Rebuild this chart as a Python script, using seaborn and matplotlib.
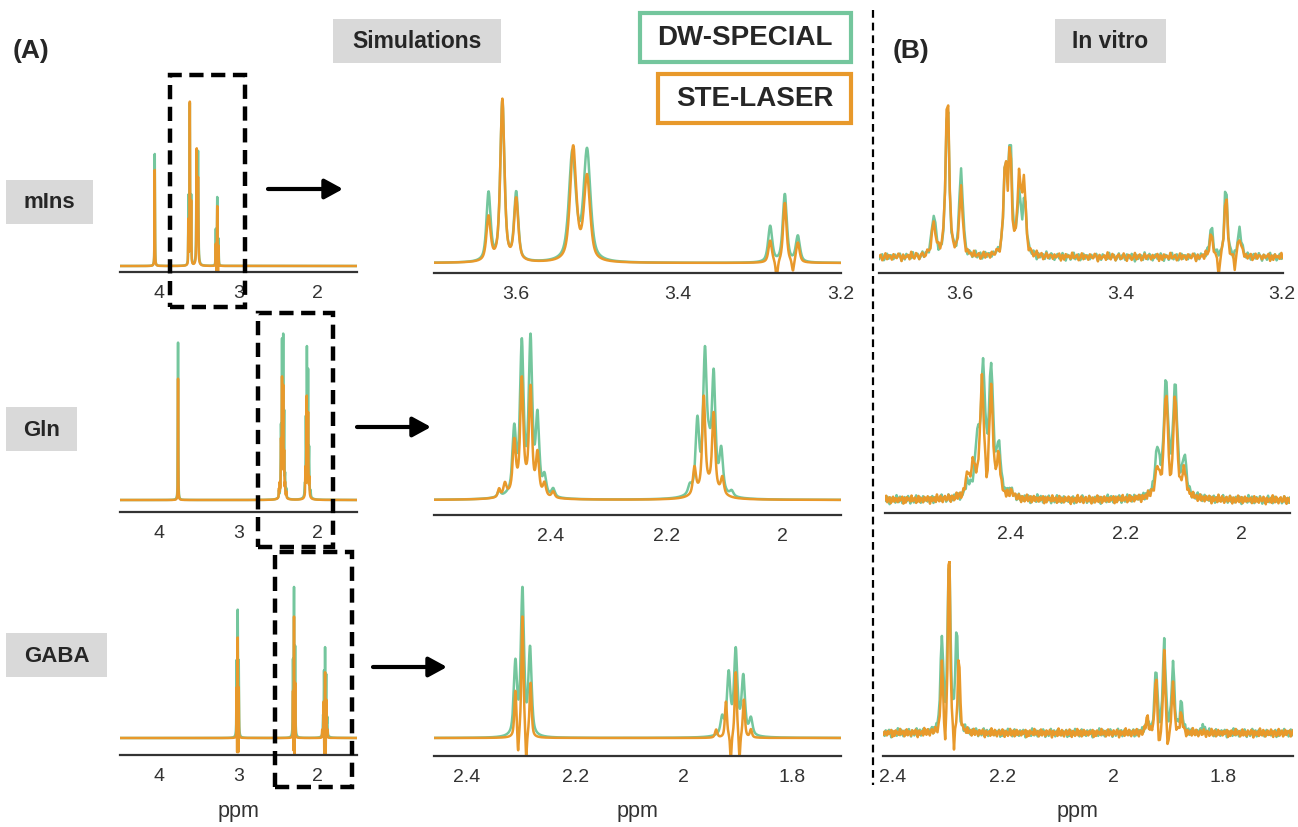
import numpy as np
import pandas as pd
import matplotlib
matplotlib.use("Agg")
import matplotlib.pyplot as plt
import seaborn as sns
from matplotlib.patches import Rectangle, FancyArrowPatch
from matplotlib.lines import Line2D

# ---- data: peak tables (ppm, intensity in a.u., line width in ppm) ----
SEQUENCES = ["DW-SPECIAL", "STE-LASER"]
METABOLITES = ["mIns", "Gln", "GABA"]

MINS_SIM_SPECIAL = [(4.060, 112, 0.006), (3.633, 68, 0.006), (3.616, 160, 0.006), (3.599, 68, 0.006),
                    (3.530, 108, 0.010), (3.512, 110, 0.010),
                    (3.287, 36, 0.006), (3.269, 68, 0.006), (3.253, 26, 0.006)]
MINS_SIM_LASER = [(4.060, 96, 0.006), (3.633, 44, 0.006), (3.616, 162, 0.006), (3.599, 62, 0.006),
                  (3.529, 114, 0.009), (3.512, 84, 0.009),
                  (3.287, 22, 0.005), (3.279, -18, 0.003), (3.269, 60, 0.005), (3.259, -12, 0.003), (3.253, 20, 0.005)]

GLN_SIM_SPECIAL = [(3.765, 158, 0.006),
                   (2.445, 14, 0.040), (2.488, 6, 0.006), (2.462, 60, 0.007), (2.449, 140, 0.007),
                   (2.434, 146, 0.007), (2.422, 74, 0.007), (2.410, 18, 0.007), (2.395, 8, 0.007),
                   (2.128, 16, 0.040), (2.160, 8, 0.007), (2.147, 68, 0.007), (2.134, 128, 0.007),
                   (2.127, 26, 0.007), (2.119, 108, 0.007), (2.106, 40, 0.007), (2.088, 5, 0.007)]
GLN_SIM_LASER = [(3.765, 122, 0.005),
                 (2.445, 16, 0.040), (2.488, 8, 0.005), (2.478, 12, 0.006), (2.462, 48, 0.006),
                 (2.449, 104, 0.006), (2.434, 98, 0.006), (2.422, 38, 0.006), (2.410, 12, 0.006), (2.395, 6, 0.006),
                 (2.128, 14, 0.040), (2.152, 26, 0.006), (2.136, 90, 0.006), (2.119, 74, 0.006),
                 (2.104, 16, 0.006)]

GABA_SIM_SPECIAL = [(3.023, 72, 0.007), (3.010, 122, 0.007), (2.997, 72, 0.007),
                    (2.310, 72, 0.007), (2.297, 145, 0.007), (2.283, 86, 0.007),
                    (1.905, 10, 0.035), (1.929, 16, 0.007), (1.917, 56, 0.007), (1.904, 76, 0.007),
                    (1.890, 54, 0.007), (1.876, 16, 0.007)]
GABA_SIM_LASER = [(3.023, 50, 0.0045), (3.017, -25, 0.003), (3.010, 100, 0.0045), (3.003, -25, 0.003),
                  (2.997, 50, 0.0045),
                  (2.310, 46, 0.0045), (2.305, -24, 0.003), (2.297, 122, 0.0045), (2.290, -30, 0.003),
                  (2.282, 54, 0.0045),
                  (1.940, 8, 0.005), (1.922, 36, 0.0045), (1.913, -26, 0.003), (1.904, 66, 0.0045),
                  (1.897, -26, 0.003), (1.889, 38, 0.0045), (1.876, 8, 0.0045)]

MINS_VITRO_SPECIAL = [(3.632, 40, 0.006), (3.615, 158, 0.005), (3.598, 88, 0.005),
                      (3.543, 88, 0.005), (3.537, 112, 0.005), (3.526, 62, 0.005), (3.519, 56, 0.005),
                      (3.287, 30, 0.005), (3.269, 76, 0.004), (3.252, 28, 0.005)]
MINS_VITRO_LASER = [(3.632, 32, 0.006), (3.615, 168, 0.005), (3.598, 66, 0.005),
                    (3.543, 94, 0.005), (3.537, 108, 0.004), (3.526, 76, 0.005), (3.520, 74, 0.005),
                    (3.287, 22, 0.005), (3.278, -20, 0.003), (3.269, 68, 0.004), (3.258, -14, 0.003),
                    (3.252, 20, 0.005)]

GLN_VITRO_SPECIAL = [(2.445, 18, 0.040), (2.474, 10, 0.008), (2.457, 46, 0.008), (2.447, 112, 0.008),
                     (2.433, 118, 0.008), (2.420, 46, 0.008), (2.400, 6, 0.008),
                     (2.125, 18, 0.040), (2.145, 42, 0.008), (2.130, 100, 0.008), (2.114, 100, 0.008),
                     (2.098, 36, 0.008)]
GLN_VITRO_LASER = [(2.447, 18, 0.040), (2.474, 20, 0.007), (2.464, 26, 0.007), (2.449, 100, 0.007),
                   (2.440, -20, 0.003), (2.433, 98, 0.007), (2.420, 36, 0.007), (2.397, 6, 0.007),
                   (2.125, 16, 0.040), (2.145, 24, 0.007), (2.130, 92, 0.007), (2.122, -20, 0.003),
                   (2.114, 90, 0.007), (2.098, 24, 0.007)]

GABA_VITRO_SPECIAL = [(2.311, 92, 0.006), (2.298, 176, 0.006), (2.284, 100, 0.006),
                      (1.938, 10, 0.006), (1.922, 64, 0.006), (1.907, 90, 0.006), (1.891, 68, 0.006),
                      (1.876, 30, 0.006), (1.836, 8, 0.005)]
GABA_VITRO_LASER = [(2.311, 70, 0.0045), (2.305, -25, 0.003), (2.298, 198, 0.0045), (2.289, -25, 0.003),
                    (2.280, 80, 0.0045), (1.938, 16, 0.005), (1.922, 60, 0.0045), (1.916, -25, 0.003),
                    (1.907, 80, 0.0045), (1.900, -25, 0.003), (1.891, 54, 0.0045), (1.876, 20, 0.0045)]

# baseline ripple of the measured spectra (a.u.), read approximately
RIPPLE = [1.5, -2.0, 3.0, -1.0, -3.5, 2.5, 0.5, -2.5, 4.0, -0.5, -3.0, 1.0, 2.0, -4.0, 0.0,
          3.5, -1.5, -2.0, 2.5, 1.0, -3.5, 0.5, 3.0, -2.5, -1.0, 4.5, -3.0, 1.5, 0.0, -2.0,
          2.0, -4.5, 1.0, 3.0, -1.5, -0.5, 2.5, -3.0, 0.5, 1.5, -2.5, 3.5, -1.0, -3.5, 2.0,
          0.0, -1.5, 4.0, -2.0, 1.0, -0.5, 2.5, -3.0, 1.5, -4.0, 3.0, 0.5, -1.0, 2.0, -2.5, 1.0]

SIM = {"mIns": (MINS_SIM_SPECIAL, MINS_SIM_LASER),
       "Gln": (GLN_SIM_SPECIAL, GLN_SIM_LASER),
       "GABA": (GABA_SIM_SPECIAL, GABA_SIM_LASER)}
VITRO = {"mIns": (MINS_VITRO_SPECIAL, MINS_VITRO_LASER),
         "Gln": (GLN_VITRO_SPECIAL, GLN_VITRO_LASER),
         "GABA": (GABA_VITRO_SPECIAL, GABA_VITRO_LASER)}

LEFT_TICKS = [4, 3, 2]
ZOOM_TICKS = {"mIns": [3.6, 3.4, 3.2], "Gln": [2.4, 2.2, 2.0], "GABA": [2.4, 2.2, 2.0, 1.8]}
ZOOM_LABELS = {"mIns": ["3.6", "3.4", "3.2"], "Gln": ["2.4", "2.2", "2"], "GABA": ["2.4", "2.2", "2", "1.8"]}

GREEN = "#74c69d"
ORANGE = "#e8992b"
GRAY = "#d9d9d9"
PALETTE = {"DW-SPECIAL": GREEN, "STE-LASER": ORANGE}
ETA = 0.65  # Lorentzian fraction of the line shape


def spectrum(x, peaks):
    y = np.zeros_like(x)
    for pos, amp, w in peaks:
        d = (x - pos) / w
        y += amp * (ETA / (1 + 4 * d ** 2) + (1 - ETA) * np.exp(-4 * np.log(2) * d ** 2))
    return y


sns.set_style("white")
plt.rcParams["font.family"] = ["Liberation Sans", "DejaVu Sans"]

W, H = 1298, 827
fig = plt.figure(figsize=(W / 100, H / 100), dpi=100)


def px_axes(x0, x1, y_axis, y_top):
    return fig.add_axes([x0 / W, 1 - y_axis / H, (x1 - x0) / W, (y_axis - y_top) / H])


def draw_panel(ax, xlim, step, tables, base, ticks, labels, ripple_shift=None):
    x = np.arange(xlim[1], xlim[0] + step / 2, step)
    frames = []
    for k, (seq, peaks) in enumerate(zip(SEQUENCES, tables)):
        y = spectrum(x, peaks)
        if ripple_shift is not None:
            y = y + np.roll(np.resize(RIPPLE, len(x)), ripple_shift[k])
        frames.append(pd.DataFrame({"ppm": x, "intensity": y, "sequence": seq}))
    df = pd.concat(frames, ignore_index=True)
    sns.lineplot(data=df, x="ppm", y="intensity", hue="sequence", hue_order=SEQUENCES,
                 palette=PALETTE, estimator=None, sort=False, legend=False, linewidth=1.8, ax=ax)
    ax.set_xlim(xlim)
    height = ax.bbox.height
    ax.set_ylim(-base, -base + height)
    ax.set_facecolor("none")
    for s in ["left", "top", "right"]:
        ax.spines[s].set_visible(False)
    ax.spines["bottom"].set_linewidth(1.6)
    ax.spines["bottom"].set_color("#333333")
    ax.set_yticks([])
    ax.set_xticks(ticks)
    ax.set_xticklabels(labels)
    ax.tick_params(axis="x", direction="inout", length=9, width=1.6, colors="#333333",
                   labelsize=14, pad=5)
    ax.set_xlabel("")
    ax.set_ylabel("")


# layout (pixels)
left_axis_y = [272, 512, 755]
mid_axis_y = [273, 515, 756]
right_axis_y = [273, 513, 756]
left_base = [6, 12, 17]
mid_base = [10, 15, 18]
right_base = [16, 13, 23]
mid_xlim = {"mIns": (3.70, 3.20), "Gln": (2.60, 1.90), "GABA": (2.46, 1.71)}
right_x = {"mIns": (879, 1283), "Gln": (885, 1290), "GABA": (883, 1293)}
right_xlim = {"mIns": (3.70, 3.198), "Gln": (2.617, 1.915), "GABA": (2.418, 1.673)}
shifts = {"mIns": (0, 23), "Gln": (11, 37), "GABA": (29, 5)}

for r, met in enumerate(METABOLITES):
    ax = px_axes(120, 357, left_axis_y[r], left_axis_y[r] - 195)
    draw_panel(ax, (4.5, 1.5), 0.0004, SIM[met], left_base[r], LEFT_TICKS,
               [str(t) for t in LEFT_TICKS])
    ax = px_axes(434, 841, mid_axis_y[r], mid_axis_y[r] - 195)
    draw_panel(ax, mid_xlim[met], 0.0004, SIM[met], mid_base[r], ZOOM_TICKS[met], ZOOM_LABELS[met])
    ax = px_axes(right_x[met][0], right_x[met][1], right_axis_y[r], right_axis_y[r] - 195)
    draw_panel(ax, right_xlim[met], 0.002, VITRO[met], right_base[r], ZOOM_TICKS[met],
               ZOOM_LABELS[met], ripple_shift=shifts[met])


def frect(x0, y0, x1, y1, **kw):
    fig.add_artist(Rectangle((x0 / W, 1 - y1 / H), (x1 - x0) / W, (y1 - y0) / H,
                             transform=fig.transFigure, **kw))


def ftext(x, y, s, **kw):
    fig.text(x / W, 1 - y / H, s, ha="center", va="center", **kw)


# dashed zoom boxes
for (x0, y0, x1, y1) in [(170, 75, 245, 307), (258, 313, 333, 547), (275, 552, 352, 787)]:
    frect(x0, y0, x1, y1, fill=False, ec="black", lw=3.2, ls=(0, (3.2, 1.7)), zorder=5)

# arrows
for (x0, x1, y) in [(268, 343, 189), (357, 431, 427), (373, 447, 667)]:
    fig.add_artist(FancyArrowPatch((x0 / W, 1 - y / H), (x1 / W, 1 - y / H), transform=fig.transFigure,
                                   arrowstyle="-|>,head_length=0.55,head_width=0.3", mutation_scale=20,
                                   lw=3, color="black", shrinkA=0, shrinkB=0))

# vertical separator
fig.add_artist(Line2D([873 / W, 873 / W], [1 - 10 / H, 1 - 785 / H], transform=fig.transFigure,
                      color="black", lw=1.6, ls=(0, (3.5, 2.2))))

# panel letters and headers
ftext(31, 51, "(A)", fontsize=19, fontweight="bold")
ftext(911, 51, "(B)", fontsize=19, fontweight="bold")
frect(333, 19, 501, 63, fc=GRAY, ec="none")
ftext(417, 42, "Simulations", fontsize=16.5, fontweight="bold")
frect(1055, 19, 1166, 63, fc=GRAY, ec="none")
ftext(1110, 42, "In vitro", fontsize=16.5, fontweight="bold")

# legend boxes
frect(640, 13, 851, 62, fc="white", ec=GREEN, lw=3)
ftext(745, 38, "DW-SPECIAL", fontsize=20, fontweight="bold")
frect(658, 74, 851, 123, fc="white", ec=ORANGE, lw=3)
ftext(755, 99, "STE-LASER", fontsize=20, fontweight="bold")

# metabolite labels
for (x0, y0, x1, y1), name in zip([(6, 180, 93, 224), (6, 407, 77, 451), (6, 633, 107, 677)], METABOLITES):
    frect(x0, y0, x1, y1, fc=GRAY, ec="none")
    ftext((x0 + x1) / 2, (y0 + y1) / 2 + 1, name, fontsize=16, fontweight="bold")

# axis titles
for x in [238, 637, 1077]:
    ftext(x, 812, "ppm", fontsize=15.5, color="#333333")

fig.savefig("out.png", dpi=100)
